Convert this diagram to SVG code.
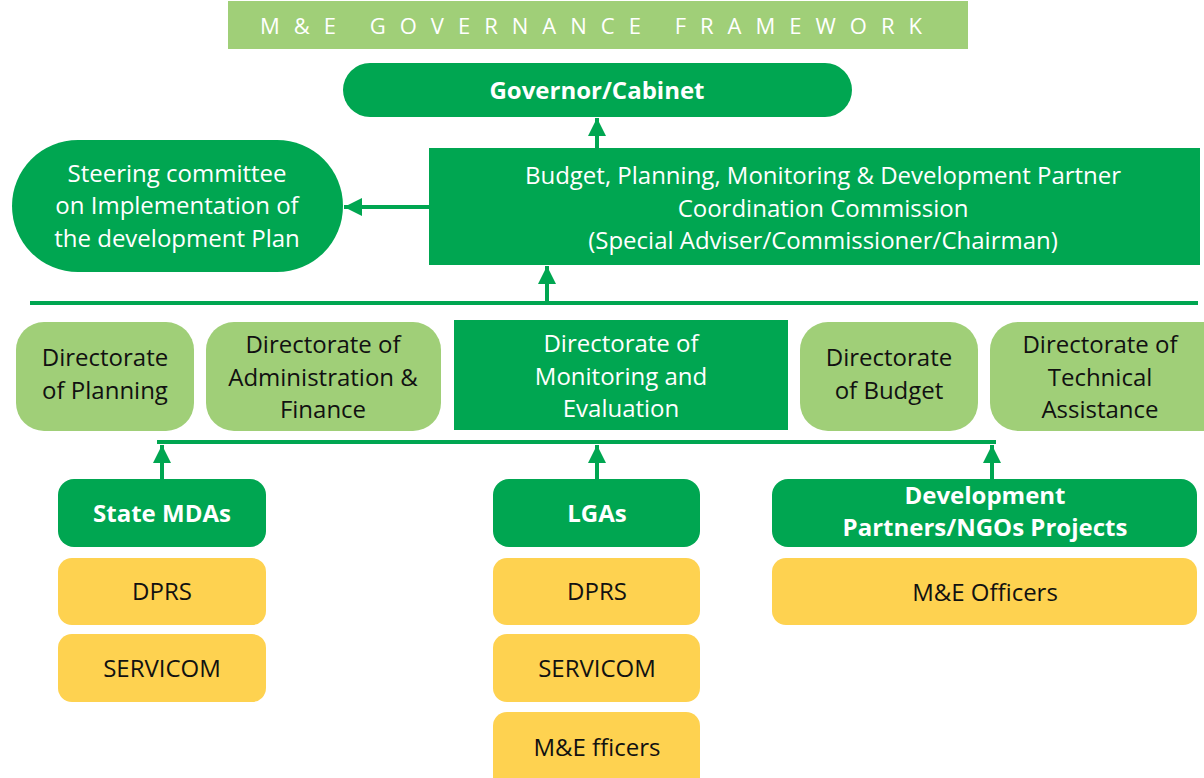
<svg xmlns="http://www.w3.org/2000/svg" width="1204" height="778" viewBox="0 0 1204 778">
<style>
text{font-family:"Open Sans","Noto Sans","Liberation Sans",sans-serif;font-size:24px;text-anchor:middle}
.dk{fill:#00A651}
.lt{fill:#A0CF78}
.yl{fill:#FED250}
.w{fill:#ffffff}
.b{fill:#111111}
.bold{font-weight:bold}
.ln{stroke:#00A651;stroke-width:4;fill:none}
</style>
<defs>
<marker id="ah" viewBox="0 0 10 10" refX="10" refY="5" markerWidth="18" markerHeight="18" markerUnits="userSpaceOnUse" orient="auto">
<path d="M0,0 L10,5 L0,10 z" fill="#00A651"/>
</marker>
</defs>
<rect width="1204" height="778" fill="#ffffff"/>
<g id="title">
<rect x="228" y="1" width="740" height="48" fill="#A0CF78"/>
<text x="260" y="34" class="w" style="text-anchor:start;font-size:22px" textLength="662" lengthAdjust="spacing">M&amp;E GOVERNANCE FRAMEWORK</text>
</g>
<g id="connectors">
<line class="ln" x1="30" y1="303" x2="1198" y2="303"/>
<line class="ln" x1="157" y1="442" x2="996" y2="442"/>
<line class="ln" x1="597" y1="148" x2="597" y2="118" marker-end="url(#ah)"/>
<line class="ln" x1="429" y1="207" x2="344" y2="207" marker-end="url(#ah)"/>
<line class="ln" x1="547" y1="303" x2="547" y2="266" marker-end="url(#ah)"/>
<line class="ln" x1="162" y1="479" x2="162" y2="445" marker-end="url(#ah)"/>
<line class="ln" x1="597" y1="479" x2="597" y2="445" marker-end="url(#ah)"/>
<line class="ln" x1="992" y1="479" x2="992" y2="445" marker-end="url(#ah)"/>
</g>
<g id="governor">
<rect x="343" y="63" width="509" height="54" rx="27" class="dk"/>
<text x="597" y="99" class="w bold">Governor/Cabinet</text>
</g>
<g id="steering">
<rect x="12" y="140" width="331" height="132" rx="66" class="dk"/>
<text x="177" y="182" class="w">Steering committee</text>
<text x="177" y="214" class="w">on Implementation of</text>
<text x="177" y="247" class="w">the development Plan</text>
</g>
<g id="commission">
<rect x="429" y="148" width="771" height="117" class="dk"/>
<text x="823" y="184" class="w">Budget, Planning, Monitoring &amp; Development Partner</text>
<text x="823" y="217" class="w">Coordination Commission</text>
<text x="823" y="249" class="w">(Special Adviser/Commissioner/Chairman)</text>
</g>
<g id="dir-planning">
<rect x="16" y="322" width="178" height="109" rx="28" class="lt"/>
<text x="105" y="366" class="b">Directorate</text>
<text x="105" y="399" class="b">of Planning</text>
</g>
<g id="dir-admin">
<rect x="206" y="322" width="235" height="109" rx="28" class="lt"/>
<text x="323" y="353" class="b">Directorate of</text>
<text x="323" y="386" class="b">Administration &amp;</text>
<text x="323" y="418" class="b">Finance</text>
</g>
<g id="dir-me">
<rect x="454" y="320" width="334" height="110" class="dk"/>
<text x="621" y="352" class="w">Directorate of</text>
<text x="621" y="385" class="w">Monitoring and</text>
<text x="621" y="417" class="w">Evaluation</text>
</g>
<g id="dir-budget">
<rect x="800" y="322" width="178" height="109" rx="28" class="lt"/>
<text x="889" y="366" class="b">Directorate</text>
<text x="889" y="399" class="b">of Budget</text>
</g>
<g id="dir-technical">
<rect x="990" y="322" width="240" height="109" rx="28" class="lt"/>
<text x="1100" y="353" class="b">Directorate of</text>
<text x="1100" y="386" class="b">Technical</text>
<text x="1100" y="418" class="b">Assistance</text>
</g>
<g id="state-mdas">
<rect x="58" y="479" width="208" height="68" rx="16" class="dk"/>
<text x="162" y="522" class="w bold">State MDAs</text>
</g>
<g id="lgas">
<rect x="493" y="479" width="207" height="68" rx="16" class="dk"/>
<text x="597" y="522" class="w bold">LGAs</text>
</g>
<g id="dev-partners">
<rect x="772" y="479" width="425" height="68" rx="16" class="dk"/>
<text x="985" y="504" class="w bold">Development</text>
<text x="985" y="536" class="w bold">Partners/NGOs Projects</text>
</g>
<g id="mdas-dprs">
<rect x="58" y="558" width="208" height="67" rx="14" class="yl"/>
<text x="162" y="600" class="b">DPRS</text>
</g>
<g id="mdas-servicom">
<rect x="58" y="634" width="208" height="68" rx="14" class="yl"/>
<text x="162" y="677" class="b">SERVICOM</text>
</g>
<g id="lgas-dprs">
<rect x="493" y="558" width="207" height="67" rx="14" class="yl"/>
<text x="597" y="600" class="b">DPRS</text>
</g>
<g id="lgas-servicom">
<rect x="493" y="634" width="207" height="68" rx="14" class="yl"/>
<text x="597" y="677" class="b">SERVICOM</text>
</g>
<g id="lgas-me">
<rect x="493" y="712" width="207" height="80" rx="14" class="yl"/>
<text x="597" y="756" class="b">M&amp;E fficers</text>
</g>
<g id="dp-me">
<rect x="772" y="558" width="425" height="67" rx="14" class="yl"/>
<text x="985" y="601" class="b">M&amp;E Officers</text>
</g>
</svg>
